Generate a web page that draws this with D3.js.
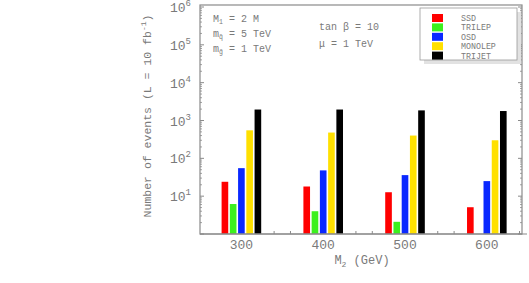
<!DOCTYPE html>
<html><head><meta charset="utf-8">
<script src="https://cdn.jsdelivr.net/npm/d3@7"></script>
<style>body{margin:0;background:#fff}svg{display:block}text{font-family:"Liberation Mono","DejaVu Sans Mono",monospace;fill:#7a7a7a}</style>
</head><body><svg id="c" width="529" height="283"></svg>
<script>
const categories = [300, 400, 500, 600];
const seriesNames = ["SSD", "TRILEP", "OSD", "MONOLEP", "TRIJET"];
const colors = ["#ff0000", "#3cf01e", "#0a28ff", "#ffe000", "#000000"];
const SSD = [24, 18, 12.7, 5.1];
const TRILEP = [6.2, 4.0, 2.1, null];
const OSD = [55, 48, 36, 25];
const MONOLEP = [550, 480, 400, 300];
const TRIJET = [1950, 1950, 1850, 1780];
const yTickExps = [1, 2, 3, 4, 5, 6];
const xMinorTicks = [340, 360, 440, 460, 540, 560, 640];

const values = [SSD, TRILEP, OSD, MONOLEP, TRIJET];
const svg = d3.select("#c");
const L = 200, R = 522, T = 5, B = 234;
const x = d3.scaleLinear().domain([249.4, 643]).range([L, R]);
const y = d3.scaleLog().domain([1, 1e6]).range([B, 7]);
const inner = d3.scaleBand().domain(seriesNames).range([-19.8, 19.8]).paddingInner(0.195);

// bars
const data = [];
categories.forEach((c, i) => seriesNames.forEach((s, j) => {
  const v = values[j][i];
  if (v != null) data.push({c, s, v, col: colors[j]});
}));
svg.append("g").selectAll("rect").data(data).join("rect")
  .attr("x", d => x(d.c) + inner(d.s))
  .attr("width", inner.bandwidth())
  .attr("y", d => y(d.v))
  .attr("height", d => B - y(d.v))
  .attr("fill", d => d.col);

// frame
const axCol = "#8a8a8a";
svg.append("rect").attr("x", L).attr("y", T).attr("width", R - L).attr("height", B - T)
  .attr("fill", "none").attr("stroke", axCol).attr("stroke-width", 1.2);
svg.append("line").attr("x1", L).attr("x2", 527).attr("y1", B).attr("y2", B).attr("stroke", axCol).attr("stroke-width", 1.2);

// y ticks
const minor = [];
for (let e = 0; e < 6; e++) for (let k = 2; k <= 9; k++) minor.push(k * Math.pow(10, e));
const majors = [1, 10, 100, 1e3, 1e4, 1e5, 1e6];
[[L, 1], [R, -1]].forEach(([x0, dir]) => {
  svg.append("g").selectAll("line").data(minor).join("line")
    .attr("x1", x0).attr("x2", x0 + dir * 2).attr("y1", d => y(d)).attr("y2", d => y(d))
    .attr("stroke", axCol).attr("stroke-width", 0.8);
  svg.append("g").selectAll("line").data(majors).join("line")
    .attr("x1", x0).attr("x2", x0 + dir * 4).attr("y1", d => y(d)).attr("y2", d => y(d))
    .attr("stroke", axCol).attr("stroke-width", 1);
});
const yl = svg.append("g").selectAll("text").data(yTickExps).join("text")
  .attr("x", 170).attr("y", d => y(Math.pow(10, d)) + 5).attr("font-size", 13);
yl.append("tspan").text("10");
yl.append("tspan").attr("dy", -6).attr("font-size", 9).text(d => d);

// x ticks
svg.append("g").selectAll("line").data(xMinorTicks).join("line")
  .attr("x1", d => x(d)).attr("x2", d => x(d)).attr("y1", B).attr("y2", B - 3)
  .attr("stroke", axCol).attr("stroke-width", 1);
svg.append("g").selectAll("text").data(categories).join("text")
  .attr("x", d => x(d)).attr("y", 249).attr("text-anchor", "middle").attr("font-size", 13).text(d => d);

// axis titles
const xt = svg.append("text").attr("x", 362).attr("y", 264).attr("text-anchor", "middle").attr("font-size", 12);
xt.append("tspan").text("M");
xt.append("tspan").attr("font-size", 8).attr("dy", 3).text("2");
xt.append("tspan").attr("dy", -3).text(" (GeV)");
const yt = svg.append("text").attr("transform", "translate(151,116) rotate(-90)").attr("text-anchor", "middle").attr("font-size", 11.5);
yt.append("tspan").text("Number of events (L = 10 fb");
yt.append("tspan").attr("font-size", 8).attr("dy", -5).text("-1");
yt.append("tspan").attr("dy", 5).text(")");

// annotations
function sub(sel, base, s, rest, sz) {
  sel.append("tspan").text(base);
  sel.append("tspan").attr("font-size", sz * 0.65).attr("dy", 2).text(s);
  sel.append("tspan").attr("dy", -2).text(rest);
}
const fs = 10;
sub(svg.append("text").attr("x", 213).attr("y", 22).attr("font-size", fs), "M", "1", " = 2 M", fs);
sub(svg.append("text").attr("x", 213).attr("y", 37).attr("font-size", fs), "m", "q̃", " = 5 TeV", fs);
sub(svg.append("text").attr("x", 213).attr("y", 52).attr("font-size", fs), "m", "g̃", " = 1 TeV", fs);
svg.append("text").attr("x", 319).attr("y", 30).attr("font-size", fs).text("tan β = 10");
svg.append("text").attr("x", 319).attr("y", 47).attr("font-size", fs).text("μ = 1 TeV");

// legend
const lx = 420, ly = 8, lw = 97, lh = 52;
svg.append("rect").attr("x", lx + 4).attr("y", ly + 4).attr("width", lw).attr("height", lh).attr("fill", "#e2e2e2");
svg.append("rect").attr("x", lx).attr("y", ly).attr("width", lw).attr("height", lh).attr("fill", "#fff").attr("stroke", "#999").attr("stroke-width", 0.8);
const lg = svg.append("g").selectAll("g").data(seriesNames).join("g")
  .attr("transform", (d, i) => `translate(0,${ly + 6 + i * 9.4})`);
lg.append("rect").attr("x", 432).attr("width", 11).attr("height", 8).attr("fill", (d, i) => colors[i]);
lg.append("text").attr("x", 461).attr("y", 7).attr("font-size", 8.3).text(d => d);
</script></body></html>
